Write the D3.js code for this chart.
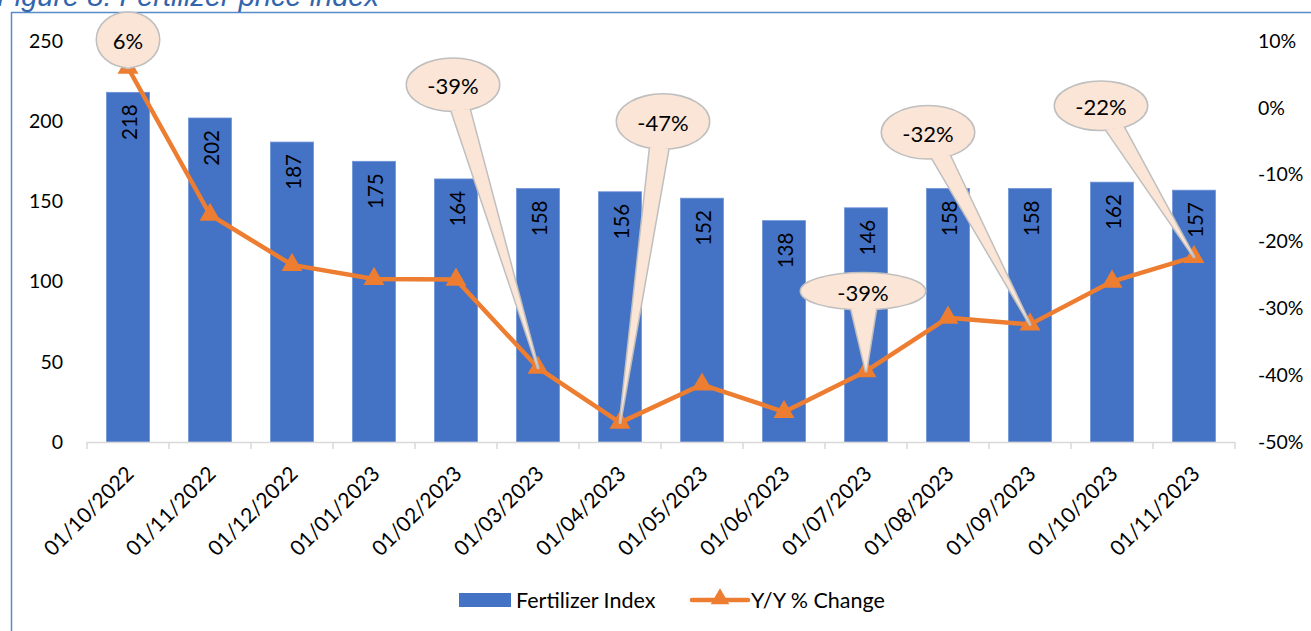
<!DOCTYPE html>
<html>
<head>
<meta charset="utf-8">
<script src="https://cdn.jsdelivr.net/npm/d3@7"></script>
<style>
  body{margin:0;background:#fff;}
  svg{display:block;}
  text{font-family:Lato,"Open Sans",sans-serif;}
</style>
</head>
<body>
<svg id="chart" width="1311" height="631"></svg>
<script>
var dates=["01/10/2022","01/11/2022","01/12/2022","01/01/2023","01/02/2023","01/03/2023","01/04/2023",
	"01/05/2023","01/06/2023","01/07/2023","01/08/2023","01/09/2023","01/10/2023","01/11/2023"];
var fertIndex=[218,202,187,175,164,158,156,152,138,146,158,158,162,157];
var yoyChange=[6,-16,-23.5,-25.6,-25.7,-38.9,-47.1,-41.4,-45.5,-39.4,-31.4,-32.4,-26,-22.3];
var leftTicks=[0,50,100,150,200,250];
var rightTicks=[-50,-40,-30,-20,-10,0,10];
var calloutIdx=[0,5,6,9,11,13];

// callout layout (offset from point, ellipse radii)
var calloutLayout={
	0:{dx:0,dy:-28,rx:31,ry:27},
	5:{dx:-85,dy:-283,rx:46,ry:26},
	6:{dx:43,dy:-301,rx:46,ry:27},
	9:{dx:-3,dy:-80,rx:62,ry:18},
	11:{dx:-102,dy:-192,rx:46,ry:26},
	13:{dx:-93,dy:-151,rx:46,ry:24}
};

var svg=d3.select("#chart");
var barColor="#4472c4", lineColor="#ed7d31";

// frame + title
svg.append("line").attr("x1",11.5).attr("x2",11.5).attr("y1",12).attr("y2",631)
	.attr("stroke","#5a8ac6").attr("stroke-width",1.5);
svg.append("line").attr("x1",11).attr("x2",1311).attr("y1",12.5).attr("y2",12.5)
	.attr("stroke","#5a8ac6").attr("stroke-width",1.5);
svg.append("text").attr("x",-3).attr("y",6)
	.style("font-family","'Liberation Sans',Arial,sans-serif").style("font-style","italic")
	.style("font-size","29px").attr("fill","#3365ad")
	.text("Figure 8: Fertilizer price index");

var x=d3.scaleBand().domain(dates).range([87,1235]).paddingInner(0.476).paddingOuter(0.238);
var yL=d3.scaleLinear().domain([0,250]).range([442,41]);
var yR=d3.scaleLinear().domain([-50,10]).range([442,41]);

// axes labels
var gl=svg.append("g").attr("transform","translate(66,0)")
	.call(d3.axisLeft(yL).tickValues(leftTicks).tickSize(0).tickPadding(3));
var gr=svg.append("g").attr("transform","translate(1255,0)")
	.call(d3.axisRight(yR).tickValues(rightTicks).tickSize(0).tickPadding(3).tickFormat(function(d){return d+"%";}));
[gl,gr].forEach(function(g){
	g.select(".domain").remove();
	g.selectAll("text").style("font-family","Lato,sans-serif").style("font-size","19.5px").attr("fill","#000");
});

// bars
svg.append("g").selectAll("rect").data(dates).enter().append("rect")
	.attr("x",function(d){return x(d);})
	.attr("y",function(d,i){return yL(fertIndex[i]);})
	.attr("width",x.bandwidth())
	.attr("height",function(d,i){return yL(0)-yL(fertIndex[i]);})
	.attr("fill",barColor).attr("stroke","#6e93d6").attr("stroke-width",0.8);

// bottom axis
var step=x.step();
svg.append("line").attr("x1",87).attr("x2",1235).attr("y1",442.5).attr("y2",442.5)
	.attr("stroke","#d9d9d9").attr("stroke-width",1.5);
svg.append("g").selectAll("line").data(d3.range(dates.length+1)).enter().append("line")
	.attr("x1",function(k){return 87+k*step;}).attr("x2",function(k){return 87+k*step;})
	.attr("y1",442).attr("y2",449).attr("stroke","#d9d9d9").attr("stroke-width",1.5);
svg.append("g").selectAll("text").data(dates).enter().append("text")
	.attr("transform",function(d){return "translate("+(x(d)+x.bandwidth()/2+1)+",469) rotate(-45)";})
	.attr("text-anchor","end").attr("dominant-baseline","central")
	.style("font-size","21px").attr("fill","#000").text(function(d){return d;});

// bar value labels
svg.append("g").selectAll("text").data(dates).enter().append("text")
	.attr("transform",function(d,i){return "translate("+(x(d)+x.bandwidth()/2+1)+","+(yL(fertIndex[i])+12)+") rotate(-90)";})
	.attr("text-anchor","end").attr("dominant-baseline","central")
	.style("font-size","20.5px").attr("fill","#000").text(function(d,i){return fertIndex[i];});

// line
var cx=function(i){return x(dates[i])+x.bandwidth()/2;};
var line=d3.line().x(function(d,i){return cx(i);}).y(function(d){return yR(d);});
svg.append("path").datum(yoyChange).attr("d",line)
	.attr("fill","none").attr("stroke",lineColor).attr("stroke-width",4.5).attr("stroke-linejoin","round");
svg.append("g").selectAll("path").data(yoyChange).enter().append("path")
	.attr("transform",function(d,i){return "translate("+cx(i)+","+yR(d)+")";})
	.attr("d",d3.symbol(d3.symbolTriangle).size(190)).attr("fill",lineColor);

// callouts
function wedge(c){
	var t=Math.atan2((c.ty-c.cy)/c.ry,(c.tx-c.cx)/c.rx), dt=0.2;
	var p1=[c.cx+c.rx*Math.cos(t-dt),c.cy+c.ry*Math.sin(t-dt)];
	var p2=[c.cx+c.rx*Math.cos(t+dt),c.cy+c.ry*Math.sin(t+dt)];
	return "M"+p1+"L"+p2+"L"+[c.tx,c.ty]+"Z";
}
var calls=calloutIdx.map(function(i){
	var L=calloutLayout[i], tx=cx(i), ty=yR(yoyChange[i]);
	return {tx:tx,ty:ty,cx:tx+L.dx,cy:ty+L.dy,rx:L.rx,ry:L.ry,label:Math.round(yoyChange[i])+"%"};
});
var cg=svg.append("g");
calls.forEach(function(c){
	var g=cg.append("g");
	g.append("path").attr("d",wedge(c)).attr("fill","#fbe5d6").attr("stroke","#bfbfbf").attr("stroke-width",3).attr("stroke-linejoin","round");
	g.append("ellipse").attr("cx",c.cx).attr("cy",c.cy).attr("rx",c.rx).attr("ry",c.ry)
		.attr("fill","#fbe5d6").attr("stroke","#bfbfbf").attr("stroke-width",3);
	g.append("path").attr("d",wedge(c)).attr("fill","#fbe5d6");
	g.append("ellipse").attr("cx",c.cx).attr("cy",c.cy).attr("rx",c.rx).attr("ry",c.ry).attr("fill","#fbe5d6");
	g.append("text").attr("x",c.cx).attr("y",c.cy+1).attr("text-anchor","middle").attr("dominant-baseline","central")
		.style("font-size","22px").attr("fill","#000").text(c.label);
});

// legend
var lg=svg.append("g");
lg.append("rect").attr("x",459).attr("y",593).attr("width",52).attr("height",14).attr("fill",barColor);
lg.append("text").attr("x",516).attr("y",600).attr("dominant-baseline","central")
	.style("font-size","21.5px").attr("fill","#000").text("Fertilizer Index");
lg.append("line").attr("x1",692).attr("x2",748).attr("y1",600).attr("y2",600)
	.attr("stroke",lineColor).attr("stroke-width",4.5).attr("stroke-linecap","round");
lg.append("path").attr("transform","translate(720,599)").attr("d",d3.symbol(d3.symbolTriangle).size(150)).attr("fill",lineColor);
lg.append("text").attr("x",751).attr("y",600).attr("dominant-baseline","central")
	.style("font-size","21.5px").attr("fill","#000").text("Y/Y % Change");
</script>
</body>
</html>
